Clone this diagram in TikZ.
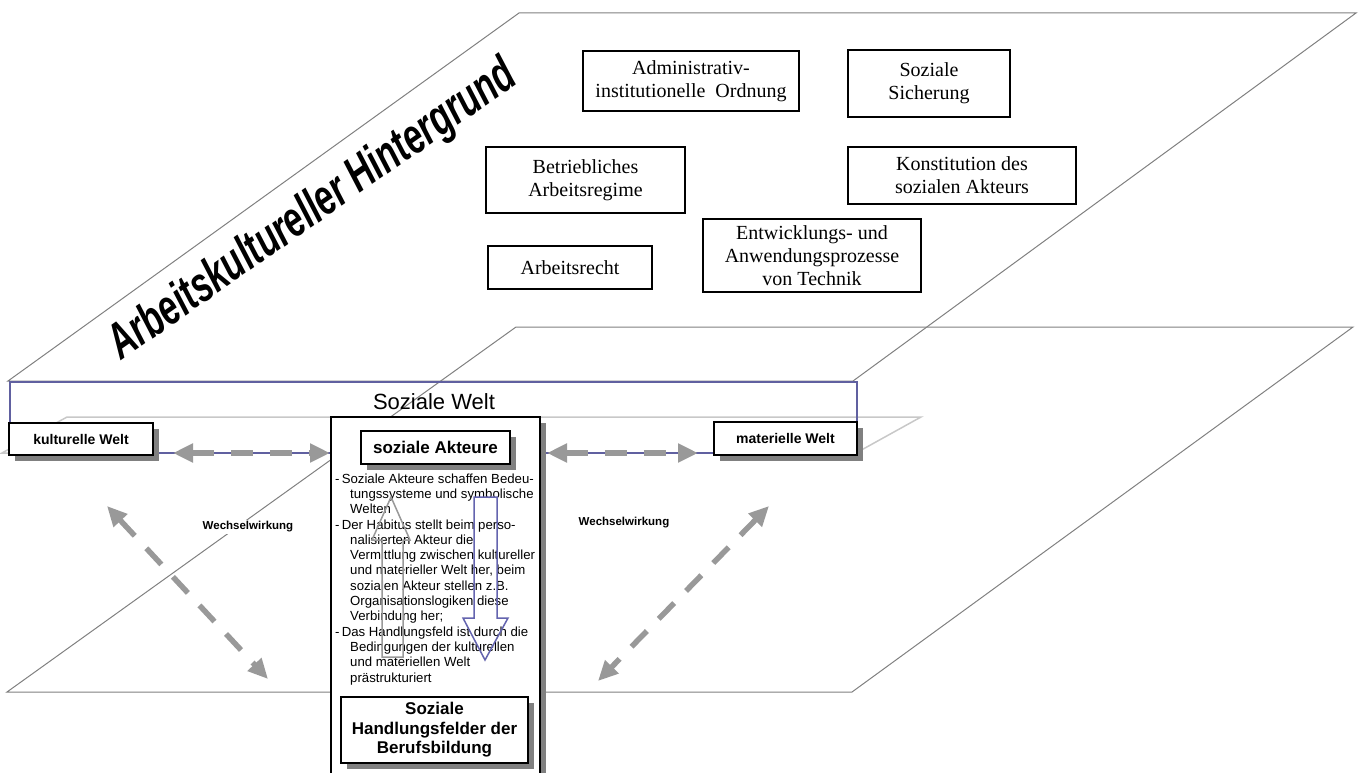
\documentclass[tikz,border=0pt]{standalone}
\usepackage{fontspec}
\setmainfont{Liberation Serif}
\newfontfamily\arial{Liberation Sans}
\usetikzlibrary{arrows.meta,shadows}
\definecolor{planegray}{RGB}{128,128,128}
\definecolor{lightplane}{RGB}{200,200,200}
\definecolor{slate}{RGB}{96,96,160}
\definecolor{arrgray}{RGB}{153,153,153}
\definecolor{shadowgray}{RGB}{128,128,128}
\definecolor{downblue}{RGB}{100,100,175}
\tikzset{
  plane/.style={draw=planegray, line width=1pt},
  lplane/.style={draw=lightplane, line width=1.5pt},
  tbox/.style={draw=black, line width=1.8pt, fill=white, align=center, inner sep=0pt,
    font=\fontsize{20}{23}\selectfont},
  shad/.style={drop shadow={shadow xshift=6pt, shadow yshift=-6pt, fill=shadowgray, opacity=1}},
  sbox/.style={draw=black, line width=1.8pt, fill=white, align=center, inner sep=0pt, shad,
    font=\arial\bfseries\fontsize{14}{16}\selectfont},
  abox/.style={draw=black, line width=1.8pt, fill=white, align=center, inner sep=0pt, shad,
    font=\arial\bfseries\fontsize{17}{19.5}\selectfont},
  body/.style={font=\arial\fontsize{13.2}{15.3}\selectfont, align=left, inner sep=0pt},
  wlabel/.style={font=\arial\bfseries\fontsize{11.5}{13}\selectfont, fill=white, inner sep=2pt},
  wx/.style={draw=arrgray, line width=5.5pt, dash pattern=on 22pt off 17pt,
    {Triangle[length=20pt,width=18pt]}-{Triangle[length=20pt,width=18pt]}},
  uparr/.style={draw=arrgray, line width=1.5pt},
  downarr/.style={draw=downblue, line width=1.5pt},
}
\begin{document}
\begin{tikzpicture}[x=1pt,y=-1pt]
\useasboundingbox (0,0) rectangle (1362,773);
% planes
\draw[plane] (519,13) -- (1356,13) -- (853,381) -- (8,381) -- cycle;
\draw[plane] (516,327) -- (1353,327) -- (852,692) -- (7,692) -- cycle;
\draw[lplane] (67,417) -- (921,417) -- (856,453) -- (2,453) -- cycle;
\draw[slate, line width=1.5pt] (10,382) rectangle (857,453);
% title
\node[rotate=35, inner sep=0pt, font=\arial\bfseries\itshape\fontsize{50}{54}\selectfont] (ttl) at (313,211)
  {\scalebox{0.68}[1]{Arbeitskultureller Hintergrund}};
% background boxes
\node[tbox, minimum width=216pt, minimum height=60pt] (adm) at (691,81) {Administrativ-\\institutionelle~ Ordnung};
\node[tbox, minimum width=162pt, minimum height=67pt] (sos) at (929,83.5) {Soziale\\Sicherung};
\node[tbox, minimum width=199pt, minimum height=66pt] (bet) at (585.5,180) {Betriebliches\\Arbeitsregime};
\node[tbox, minimum width=228pt, minimum height=57pt] (kon) at (962,175.5) {Konstitution des\\sozialen Akteurs};
\node[tbox, minimum width=164pt, minimum height=43pt] (arb) at (570,267.5) {Arbeitsrecht};
\node[tbox, minimum width=218pt, minimum height=73pt] (ent) at (812,255.5) {Entwicklungs- und\\Anwendungsprozesse\\von Technik};
% soziale Welt
\node[font=\arial\fontsize{22}{24}\selectfont, inner sep=0pt] (swl) at (434,402) {Soziale Welt};
\node[sbox, minimum width=144pt, minimum height=32pt] (kw) at (81,439) {kulturelle Welt};
\node[sbox, minimum width=143pt, minimum height=33pt] (mw) at (785.5,438.5) {materielle Welt};
\node[draw=black, line width=2pt, fill=white, shad, minimum width=209pt, minimum height=383pt, inner sep=0pt] (co) at (435.5,608.5) {};
\node[abox, minimum width=149pt, minimum height=33pt] (sa) at (435.5,447.5) {soziale Akteure};
\node[abox, minimum width=187pt, minimum height=66pt] (hf) at (434.5,730) {Soziale\\Handlungsfelder der\\Berufsbildung};
\node[body, anchor=base west] (txt) at (335,682) {%
-\,Soziale Akteure schaffen Bedeu-\\
\hspace*{15pt}tungssysteme und symbolische\\
\hspace*{15pt}Welten\\
-\,Der Habitus stellt beim perso-\\
\hspace*{15pt}nalisierten Akteur die\\
\hspace*{15pt}Vermittlung zwischen kultureller\\
\hspace*{15pt}und materieller Welt her, beim\\
\hspace*{15pt}sozialen Akteur stellen z.B.\\
\hspace*{15pt}Organisationslogiken diese\\
\hspace*{15pt}Verbindung her;\\
-\,Das Handlungsfeld ist durch die\\
\hspace*{15pt}Bedingungen der kulturellen\\
\hspace*{15pt}und materiellen Welt\\
\hspace*{15pt}prästrukturiert};
% block arrows
\draw[uparr] (391,497) -- (410,540) -- (403,540) -- (403,657) -- (382,657) -- (382,540) -- (372,540) -- cycle;
\draw[downarr] (474,497) -- (497,497) -- (497,618) -- (508,618) -- (485,660) -- (463,618) -- (474,618) -- cycle;
% labels
\node[wlabel] (w1) at (248,527) {Wechselwirkung};
\node[wlabel] (w2) at (624,523) {Wechselwirkung};
% dashed arrows
\coordinate (h1a) at (173,453);
\coordinate (h1b) at (330,453);
\coordinate (h2a) at (547,453);
\coordinate (h2b) at (698,453);
\coordinate (d1a) at (107,506);
\coordinate (d1b) at (268,679);
\coordinate (d2a) at (769,506);
\coordinate (d2b) at (598,681);
\draw[wx] (h1a) -- (h1b);
\draw[wx] (h2a) -- (h2b);
\draw[wx] (d1a) -- (d1b);
\draw[wx] (d2a) -- (d2b);
\end{tikzpicture}
\end{document}
